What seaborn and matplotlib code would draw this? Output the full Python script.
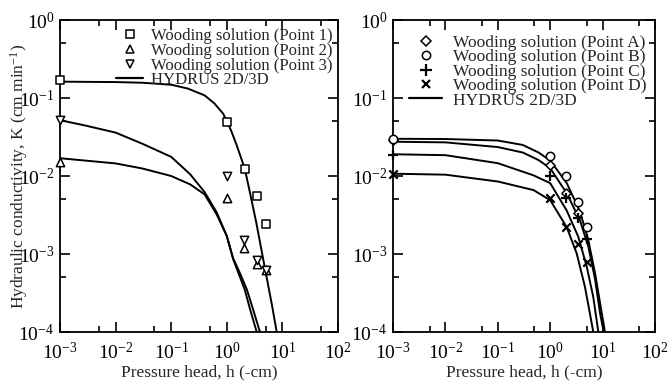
import numpy as np
import pandas as pd
import matplotlib
matplotlib.use("Agg")
import matplotlib.pyplot as plt
import seaborn as sns
from matplotlib.ticker import LogLocator, NullFormatter, LogFormatterSciNotation
from matplotlib.lines import Line2D

# ---------------- data: left panel ----------------
p1_h = [0.001, 1.0, 2.1, 3.5, 5.0]
p1_K = [0.17, 0.049, 0.0123, 0.0055, 0.00245]
p2_h = [0.001, 1.0, 2.0, 3.45, 5.05]
p2_K = [0.015, 0.0053, 0.0012, 0.00074, 0.00063]
p3_h = [0.001, 1.0, 2.0, 3.45, 5.05]
p3_K = [0.052, 0.010, 0.0015, 0.00085, 0.00063]

c1_h = [0.001, 0.01, 0.03, 0.1, 0.2, 0.4, 0.6, 0.86, 1.2, 1.5, 2.1, 2.6, 3.4, 4.9, 6.5, 7.9]
c1_K = [0.162, 0.160, 0.157, 0.148, 0.132, 0.108, 0.085, 0.063, 0.038, 0.025, 0.0125, 0.0062, 0.0025, 0.00063, 0.00022, 0.0001]
c2_h = [0.001, 0.003, 0.01, 0.03, 0.1, 0.22, 0.4, 0.66, 1.0, 1.3, 2.1, 2.6, 3.45]
c2_K = [0.052, 0.044, 0.036, 0.026, 0.0176, 0.0105, 0.0062, 0.0034, 0.0017, 0.00086, 0.00035, 0.0002, 0.0001]
c3_h = [0.001, 0.01, 0.03, 0.1, 0.22, 0.4, 0.66, 1.0, 1.3, 1.7, 2.3, 3.0, 3.95]
c3_K = [0.0169, 0.0145, 0.0125, 0.010, 0.0078, 0.0058, 0.0032, 0.0017, 0.00088, 0.00058, 0.00035, 0.00019, 0.0001]

# ---------------- data: right panel ----------------
pa_h = [0.001, 1.0, 2.0, 3.4]
pa_K = [0.029, 0.0138, 0.006, 0.0034]
pb_h = [0.001, 1.0, 2.0, 3.4, 5.0]
pb_K = [0.030, 0.018, 0.010, 0.0047, 0.0022]
pc_h = [0.001, 1.0, 2.0, 3.4, 5.0]
pc_K = [0.0186, 0.010, 0.0053, 0.0029, 0.00155]
pd_h = [0.001, 1.0, 2.0, 3.4, 5.0]
pd_K = [0.0105, 0.0052, 0.0022, 0.00135, 0.0008]

ca_h = [0.001, 0.01, 0.1, 0.3, 0.6, 1.0, 2.07, 3.7, 5.35, 7.2, 9.2, 11.1]
ca_K = [0.030, 0.0298, 0.0285, 0.025, 0.020, 0.0158, 0.0081, 0.0035, 0.0015, 0.00056, 0.00021, 0.0001]
cb_h = [0.001, 0.01, 0.1, 0.3, 0.6, 1.0, 2.07, 3.7, 5.35, 7.2, 9.0, 10.5]
cb_K = [0.0275, 0.027, 0.0235, 0.020, 0.016, 0.0126, 0.006, 0.0027, 0.00124, 0.00047, 0.00017, 0.0001]
cc_h = [0.001, 0.01, 0.1, 0.48, 1.0, 2.07, 3.44, 4.98, 6.64, 8.3]
cc_K = [0.019, 0.0185, 0.0146, 0.0102, 0.0081, 0.0036, 0.00166, 0.00069, 0.00028, 0.0001]
cd_h = [0.001, 0.01, 0.1, 0.48, 1.0, 2.07, 3.2, 4.6, 5.75, 6.64]
cd_K = [0.0107, 0.0104, 0.0085, 0.0066, 0.0049, 0.0022, 0.00102, 0.00038, 0.00017, 0.0001]

legend_left = ["Wooding solution (Point 1)", "Wooding solution (Point 2)",
               "Wooding solution (Point 3)", "HYDRUS 2D/3D"]
legend_right = ["Wooding solution (Point A)", "Wooding solution (Point B)",
                "Wooding solution (Point C)", "Wooding solution (Point D)", "HYDRUS 2D/3D"]

sns.set_theme(style="ticks")
plt.rcParams["font.family"] = ["Liberation Serif", "DejaVu Serif"]
plt.rcParams["mathtext.fontset"] = "custom"
plt.rcParams["mathtext.rm"] = "Liberation Serif"
plt.rcParams["mathtext.it"] = "Liberation Serif:italic"
plt.rcParams["mathtext.bf"] = "Liberation Serif:bold"

fig = plt.figure(figsize=(6.69, 3.82), dpi=100)
axL = fig.add_axes([60 / 669, 50 / 382, 278 / 669, 312 / 382])
axR = fig.add_axes([393 / 669, 50 / 382, 262 / 669, 312 / 382])


def curves_df(pairs):
    rows = []
    for i, (h, k) in enumerate(pairs):
        for a, b in zip(h, k):
            rows.append({"h": a, "K": b, "curve": i})
    return pd.DataFrame(rows)


def style_axes(ax):
    ax.set_xscale("log")
    ax.set_yscale("log")
    ax.set_xlim(1e-3, 1e2)
    ax.set_ylim(1e-4, 1e0)
    ax.xaxis.set_major_locator(LogLocator(base=10, numticks=10))
    ax.yaxis.set_major_locator(LogLocator(base=10, numticks=10))
    ax.xaxis.set_minor_locator(LogLocator(base=10, subs=[5.0], numticks=10))
    ax.yaxis.set_minor_locator(LogLocator(base=10, subs=[5.0], numticks=10))
    ax.xaxis.set_minor_formatter(NullFormatter())
    ax.yaxis.set_minor_formatter(NullFormatter())
    ax.xaxis.set_major_formatter(LogFormatterSciNotation())
    ax.yaxis.set_major_formatter(LogFormatterSciNotation())
    ax.tick_params(which="both", direction="in", top=True, right=True, colors="black",
                   width=1.2, labelsize=14)
    ax.tick_params(axis="x", which="both", pad=7)
    ax.tick_params(axis="y", which="both", pad=4)
    ax.tick_params(which="major", length=7)
    ax.tick_params(which="minor", length=4.5)
    for s in ax.spines.values():
        s.set_linewidth(1.3)
        s.set_color("black")
    ax.set_xlabel("Pressure head, h (-cm)", fontsize=12.5, labelpad=1)
    ax.set_ylabel("")


def scatter(ax, h, k, marker, size, filled=True):
    if filled:
        sns.scatterplot(x=h, y=k, ax=ax, marker=marker, s=size, facecolor="white",
                        edgecolor="black", linewidth=1.1, zorder=5, clip_on=False)
    else:
        sns.scatterplot(x=h, y=k, ax=ax, marker=marker, s=size, color="black",
                        linewidth=1.6, zorder=5, clip_on=False)


# ---------------- left panel ----------------
dfL = curves_df([(c1_h, c1_K), (c2_h, c2_K), (c3_h, c3_K)])
sns.lineplot(data=dfL, x="h", y="K", units="curve", estimator=None, sort=False,
             color="black", linewidth=1.4, ax=axL)
scatter(axL, p1_h, p1_K, "s", 30)
scatter(axL, p2_h, p2_K, "^", 36)
scatter(axL, p3_h, p3_K, "v", 36)
style_axes(axL)
axL.set_ylabel("Hydraulic conductivity, K (cm min$^{-1}$)", fontsize=12.5)
axL.yaxis.set_label_coords(-0.108, 0.5)

hL = [Line2D([], [], ls="none", marker="s", ms=5.5, mfc="white", mec="black", mew=1.1),
      Line2D([], [], ls="none", marker="^", ms=6, mfc="white", mec="black", mew=1.1),
      Line2D([], [], ls="none", marker="v", ms=6, mfc="white", mec="black", mew=1.1),
      Line2D([], [], color="black", lw=1.6)]
axL.legend(hL, legend_left, loc="upper right", frameon=False, fontsize=12,
           labelspacing=-0.08, handlelength=1.6, handletextpad=0.5,
           borderaxespad=0.0, bbox_to_anchor=(1.006, 0.995))

# ---------------- right panel ----------------
dfR = curves_df([(ca_h, ca_K), (cb_h, cb_K), (cc_h, cc_K), (cd_h, cd_K)])
sns.lineplot(data=dfR, x="h", y="K", units="curve", estimator=None, sort=False,
             color="black", linewidth=1.4, ax=axR)
scatter(axR, pa_h, pa_K, "D", 22)
scatter(axR, pb_h, pb_K, "o", 36)
scatter(axR, pc_h, pc_K, "+", 60, filled=False)
scatter(axR, pd_h, pd_K, "x", 36, filled=False)
style_axes(axR)

hR = [Line2D([], [], ls="none", marker="D", ms=5, mfc="white", mec="black", mew=1.1),
      Line2D([], [], ls="none", marker="o", ms=6, mfc="white", mec="black", mew=1.1),
      Line2D([], [], ls="none", marker="+", ms=8, color="black", mew=1.6),
      Line2D([], [], ls="none", marker="x", ms=6, color="black", mew=1.6),
      Line2D([], [], color="black", lw=1.6)]
axR.legend(hR, legend_right, loc="upper right", frameon=False, fontsize=12.5,
           labelspacing=-0.1, handlelength=1.9, handletextpad=0.6,
           borderaxespad=0.0, bbox_to_anchor=(0.993, 0.975))

fig.savefig("out.png", dpi=100)
